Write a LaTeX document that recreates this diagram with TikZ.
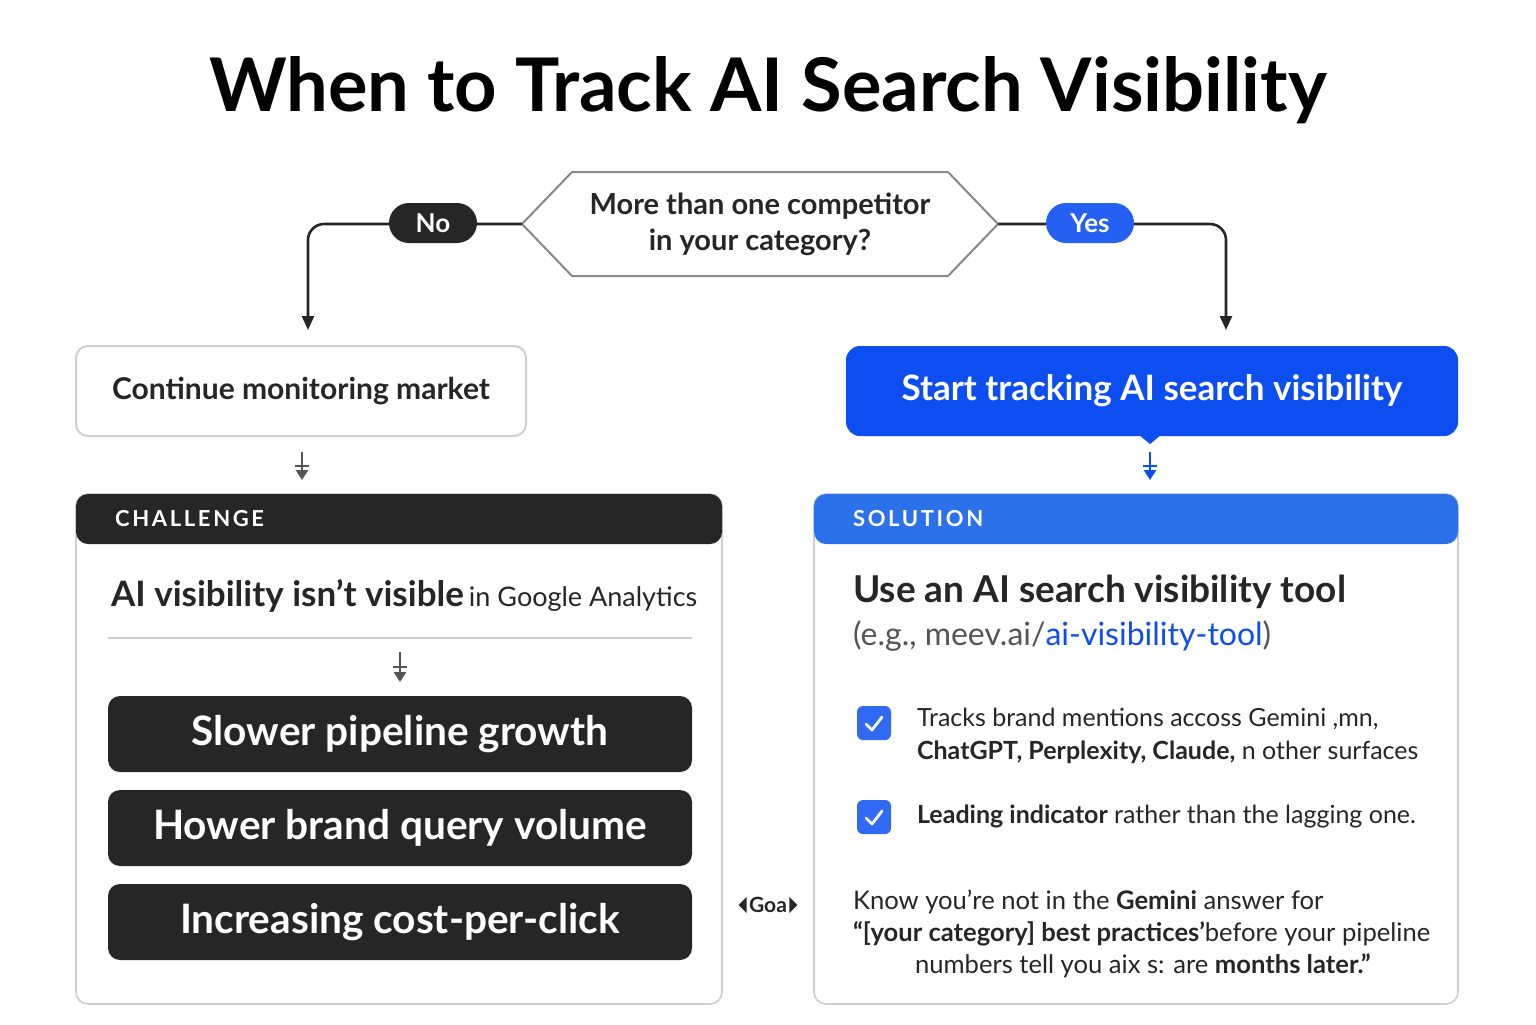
\documentclass[tikz,border=0pt]{standalone}
\usepackage{fontspec}
\setmainfont{Lato}
\usetikzlibrary{positioning,arrows.meta}
\definecolor{inkDark}{HTML}{262626}
\definecolor{blueMain}{HTML}{0C4EF0}
\definecolor{blueHead}{HTML}{2B72EA}
\definecolor{greyLine}{HTML}{CFCFCF}
\definecolor{greyText}{HTML}{555555}
\begin{document}
\begin{tikzpicture}
[x=0.5pt,y=-0.5pt,
  lineDecorate/.style={-{Triangle[length=7pt,width=6pt]},line width=1.3pt,inkDark,rounded corners=8pt},%
  pillDecorate/.style={shape=rectangle,rounded corners=10pt,minimum width=44pt,minimum height=20pt,inner sep=0pt,font=\bfseries\fontsize{13}{15}\selectfont},
  panelDecorate/.style={draw=greyLine,line width=0.8pt,rounded corners=6pt,fill=white},
  badDecorate/.style={shape=rectangle,fill=inkDark,rounded corners=6pt,minimum width=292pt,minimum height=38pt,text=white,font=\bfseries\fontsize{20.3}{23}\selectfont},
  checkDecorate/.style={shape=rectangle,fill=blueMain!85!white,rounded corners=3pt,minimum size=17pt,inner sep=0pt},
  smallArrow/.style={-{Triangle[length=5pt,width=6pt]},line width=1.2pt}]
\useasboundingbox[fill=white] (0,0) rectangle (1536,1024);
%% title
\node (title) at (768,90) {\bfseries\fontsize{37}{44}\selectfont When to Track AI Search Visibility};
%% decision
\draw[greyText!70,line width=1pt,fill=white] (522,224) -- (572,172) -- (948,172) -- (998,224) -- (948,276) -- (572,276) -- cycle;
\coordinate (qLeft) at (522,224);
\coordinate (qRight) at (998,224);
\node (question) at (760,224) [align=center,font=\bfseries\fontsize{14.5}{18}\selectfont,text=inkDark] {More than one competitor\\in your category?};
\coordinate (noEnd) at (308,330);
\coordinate (yesEnd) at (1226,330);
\draw[lineDecorate] (qLeft) -- (308,224) -- (noEnd);
\draw[lineDecorate] (qRight) -- (1226,224) -- (yesEnd);
\node (no) at (433,223) [pillDecorate,fill=inkDark,text=white] {No};
\node (yes) at (1090,223) [pillDecorate,fill=blueMain!90!white,text=white] {Yes};
%% outcome boxes
\node (monitor) at (301,391) [draw=greyLine,line width=1pt,rounded corners=6pt,minimum width=225pt,minimum height=45pt,font=\bfseries\fontsize{15}{17}\selectfont,text=inkDark] {Continue monitoring market};
\fill[blueMain] (1138,434) -- (1150,444) -- (1162,434) -- cycle;
\node (start) at (1152,391) [fill=blueMain,rounded corners=7pt,minimum width=306pt,minimum height=45pt,font=\bfseries\fontsize{17.5}{20}\selectfont,text=white] {Start tracking AI search visibility};
\coordinate (monA) at (302,452);
\coordinate (monB) at (302,480);
\draw[smallArrow,greyText] (monA) -- (monB);
\draw[greyText,line width=1.2pt] (295,466) -- (309,466);
\coordinate (startA) at (1150,452);
\coordinate (startB) at (1150,480);
\draw[smallArrow,blueMain] (startA) -- (startB);
\draw[blueMain,line width=1.2pt] (1143,466) -- (1157,466);
%% challenge panel
\draw[panelDecorate] (76,494) rectangle (722,1004);
\fill[inkDark,rounded corners=6pt] (76,544) -- (76,494) -- (722,494) -- (722,544) -- cycle;
\node (challenge) at (108,519) [anchor=west,text=white,font=\bfseries\fontsize{11}{13}\selectfont] {\addfontfeature{LetterSpace=12}CHALLENGE};
\node (problem) at (104,596) [anchor=west,text=inkDark] {{\bfseries\fontsize{17.5}{20}\selectfont AI visibility isn’t visible} {\fontsize{13.5}{16}\selectfont in Google Analytics}};
\draw[greyLine,line width=0.8pt] (108,638) -- (692,638);
\coordinate (probA) at (400,652);
\coordinate (probB) at (400,682);
\draw[smallArrow,greyText] (probA) -- (probB);
\draw[greyText,line width=1.2pt] (393,667) -- (407,667);
\foreach \nodename/\y/\txt in {
  slow/734/Slower pipeline growth,
  lower/828/Hower brand query volume,
  cpc/922/Increasing cost-per-click}
{
  \node (\nodename) at (400,\y) [badDecorate] {\txt};
}
%% goal marker
\node (goal) at (768,905) [font=\bfseries\fontsize{10.5}{12}\selectfont,text=inkDark,inner sep=1pt] {Goa};
\fill[inkDark] (goal.west) ++(0,-8) -- ++(-8,8) -- ++(8,8) -- cycle;
\fill[inkDark] (goal.east) ++(0,-8) -- ++(8,8) -- ++(-8,8) -- cycle;
%% solution panel
\draw[panelDecorate] (814,494) rectangle (1458,1004);
\fill[blueHead,rounded corners=6pt] (814,544) -- (814,494) -- (1458,494) -- (1458,544) -- cycle;
\node (solution) at (846,519) [anchor=west,text=white,font=\bfseries\fontsize{11}{13}\selectfont] {\addfontfeature{LetterSpace=12}SOLUTION};
\node (tool) at (846,592) [anchor=west,text=inkDark,font=\bfseries\fontsize{18.5}{21}\selectfont] {Use an AI search visibility tool};
\node (example) at (846,636) [anchor=west,text=greyText,font=\fontsize{16}{18}\selectfont] {(e.g., meev.ai/\textcolor{blueMain}{ai-visibility-tool})};
\node (check1) at (874,723) [checkDecorate] {};
\node (check2) at (874,817) [checkDecorate] {};
\foreach \c in {check1,check2}
  \draw[white,line width=1.4pt,line cap=round,line join=round] ([shift={(-8,1)}]\c.center) -- ([shift={(-2,7)}]\c.center) -- ([shift={(8,-6)}]\c.center);
\node (feature1) at (910,736) [anchor=west,align=left,text=inkDark,font=\fontsize{12.5}{16.5}\selectfont] {Tracks brand mentions accoss Gemini ,mn,\\\textbf{ChatGPT, Perplexity, Claude,} n other surfaces};
\node (feature2) at (910,816) [anchor=west,text=inkDark,font=\fontsize{12.5}{15}\selectfont] {\textbf{Leading indicator} rather than the lagging one.};
\node (quote) at (846,934) [anchor=west,align=left,text=inkDark,font=\fontsize{12.8}{16}\selectfont] {Know you’re not in the \textbf{Gemini} answer for\\\textbf{“[your category] best practices’}before your pipeline\\\hspace*{31pt}numbers tell you aix s: are \textbf{months later.”}};
\end{tikzpicture}
\end{document}
